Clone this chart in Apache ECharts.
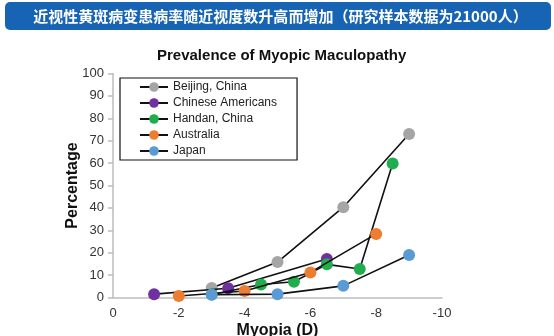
<!DOCTYPE html>
<html><head><meta charset="utf-8">
<script src="https://cdn.jsdelivr.net/npm/echarts@6/dist/echarts.min.js"></script>
<style>html,body{margin:0;padding:0;background:#fff}#c{width:554px;height:336px}</style>
</head><body><div id="c"></div>
<script>
const headerText = '近视性黄斑病变患病率随近视度数升高而增加（研究样本数据为21000人）';
const chartTitle = 'Prevalence of Myopic Maculopathy';
const seriesNames = ['Beijing, China', 'Chinese Americans', 'Handan, China', 'Australia', 'Japan'];
const seriesColors = ['#A5A5A5', '#7030A0', '#1FAD4E', '#ED7D31', '#5B9BD5'];
const beijing = [[-3, 4.2], [-5, 15.8], [-7, 40.3], [-9, 73]];
const chineseAmericans = [[-1.25, 1.5], [-3.5, 4.1], [-6.5, 17.2]];
const handan = [[-3, 1.3], [-4.5, 5.8], [-5.5, 7], [-6.5, 14.8], [-7.5, 12.7], [-8.5, 59.8]];
const australia = [[-2, 0.7], [-4, 2.9], [-6, 11.2], [-8, 28.4]];
const japan = [[-3, 1.2], [-5, 1.5], [-7, 5.2], [-9, 19]];
const xTicks = {min: -10, max: 0, interval: 2};
const yTicks = {min: 0, max: 100, interval: 10};

const allData = [beijing, chineseAmericans, handan, australia, japan];
const font = '"Liberation Sans", Arial, sans-serif';
const chart = echarts.init(document.getElementById('c'));
chart.setOption({
  animation: false,
  graphic: [
    {type: 'rect', shape: {x: 5, y: 2, width: 546, height: 28, r: 5}, style: {fill: '#1764B4'}, z: 0},
    {type: 'text', x: 280.5, y: 16.5, style: {text: headerText, fill: '#fff', font: 'bold 15px "Noto Sans CJK SC"', textAlign: 'center', textVerticalAlign: 'middle'}, z: 1}
  ],
  title: {text: chartTitle, left: 157, top: 48, padding: 0,
    textStyle: {fontFamily: font, fontWeight: 'bold', fontSize: 15, color: '#111'}},
  legend: {
    data: seriesNames, orient: 'vertical', left: 120, top: 78,
    padding: [3, 20, 3, 19], itemGap: 4, itemWidth: 28, itemHeight: 12,
    borderColor: '#111', borderWidth: 1.2,
    textStyle: {fontFamily: font, fontSize: 12, lineHeight: 12, color: '#222'}
  },
  grid: {left: 113, right: 112, top: 73.5, bottom: 38.5, containLabel: false, outerBoundsMode: 'none'},
  xAxis: {
    type: 'value', inverse: true, min: xTicks.min, max: xTicks.max, interval: xTicks.interval,
    name: 'Myopia (D)', nameLocation: 'middle', nameGap: 25, nameMoveOverlap: false,
    nameTextStyle: {fontFamily: font, fontWeight: 'bold', fontSize: 16, color: '#111'},
    axisLine: {show: true, lineStyle: {color: '#BDBDBD', width: 1.5}},
    axisTick: {show: false},
    axisLabel: {fontFamily: font, fontSize: 13, color: '#333', margin: 9},
    splitLine: {show: false}
  },
  yAxis: {
    type: 'value', min: yTicks.min, max: yTicks.max, interval: yTicks.interval,
    name: 'Percentage', nameLocation: 'middle', nameGap: 32, nameRotate: 90, nameMoveOverlap: false,
    nameTextStyle: {fontFamily: font, fontWeight: 'bold', fontSize: 16, color: '#111'},
    axisLine: {show: true, lineStyle: {color: '#BDBDBD', width: 1.5}},
    axisTick: {show: true, length: 5, lineStyle: {color: '#BDBDBD', width: 1.5}},
    axisLabel: {fontFamily: font, fontSize: 13, color: '#333', margin: 9},
    splitLine: {show: false}
  },
  series: seriesNames.map((n, i) => ({
    name: n, type: 'line', data: allData[i],
    symbol: 'circle', symbolSize: 12,
    lineStyle: {color: '#111', width: 1.6},
    itemStyle: {color: seriesColors[i], borderWidth: 0},
    z: 2 + i
  }))
});
</script></body></html>
